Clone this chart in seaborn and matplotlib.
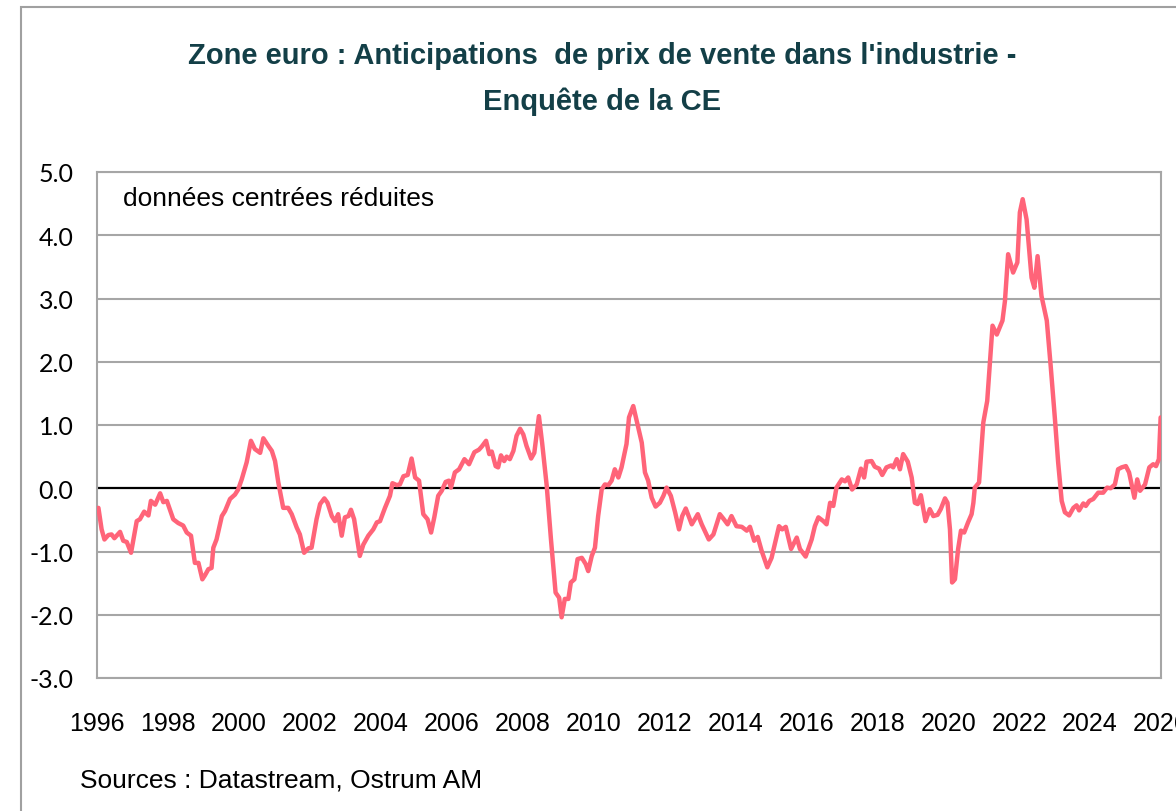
import matplotlib
matplotlib.use('Agg')
import matplotlib.pyplot as plt
import seaborn as sns
import pandas as pd
from matplotlib.patches import Rectangle

# decimal years and values
years = [
    1996.04, 1996.13, 1996.21, 1996.32, 1996.41, 1996.49, 1996.65, 1996.74, 1996.84, 1996.96,
    1997.12, 1997.21, 1997.33, 1997.45, 1997.52, 1997.64, 1997.78, 1997.87, 1997.97,
    1998.15, 1998.29, 1998.43, 1998.53, 1998.65, 1998.76, 1998.86, 1998.97,
    1999.04, 1999.14, 1999.23, 1999.28, 1999.37, 1999.52, 1999.61, 1999.75, 1999.89, 1999.98,
    2000.08, 2000.22, 2000.34, 2000.45, 2000.60, 2000.69, 2000.83, 2000.93,
    2001.02, 2001.11, 2001.25, 2001.39, 2001.49, 2001.63, 2001.72, 2001.84, 2001.96,
    2002.05, 2002.19, 2002.29, 2002.41, 2002.50, 2002.62, 2002.71, 2002.80, 2002.90, 2002.99,
    2003.09, 2003.16, 2003.25, 2003.41, 2003.51, 2003.65, 2003.79, 2003.89, 2003.98,
    2004.12, 2004.26, 2004.33, 2004.45, 2004.54, 2004.64, 2004.76, 2004.87, 2004.97,
    2005.08, 2005.20, 2005.32, 2005.42, 2005.51, 2005.62, 2005.72, 2005.83, 2005.92, 2005.98,
    2006.09, 2006.21, 2006.36, 2006.49, 2006.64, 2006.77, 2006.85, 2006.97,
    2007.06, 2007.13, 2007.24, 2007.31, 2007.39, 2007.48, 2007.55, 2007.64, 2007.74, 2007.83, 2007.93,
    2008.02, 2008.11, 2008.24, 2008.33, 2008.46, 2008.55, 2008.68, 2008.80, 2008.93,
    2009.03, 2009.10, 2009.19, 2009.29, 2009.36, 2009.46, 2009.55, 2009.67, 2009.78, 2009.85, 2009.95,
    2010.04, 2010.13, 2010.23, 2010.32, 2010.42, 2010.51, 2010.60, 2010.70, 2010.79, 2010.93,
    2011.00, 2011.12, 2011.24, 2011.36, 2011.45, 2011.54, 2011.64, 2011.75, 2011.87, 2011.97,
    2012.06, 2012.18, 2012.30, 2012.41, 2012.50, 2012.60, 2012.77, 2012.94,
    2013.05, 2013.25, 2013.38, 2013.56, 2013.66, 2013.78, 2013.89,
    2014.03, 2014.18, 2014.32, 2014.41, 2014.53, 2014.63, 2014.74, 2014.90,
    2015.02, 2015.12, 2015.23, 2015.32, 2015.42, 2015.57, 2015.73, 2015.82, 2015.98,
    2016.15, 2016.24, 2016.34, 2016.48, 2016.57, 2016.67, 2016.76, 2016.85,
    2017.00, 2017.09, 2017.18, 2017.29, 2017.42, 2017.54, 2017.63, 2017.70, 2017.84, 2017.93,
    2018.05, 2018.14, 2018.26, 2018.39, 2018.45, 2018.55, 2018.64, 2018.73, 2018.86, 2018.97,
    2019.06, 2019.14, 2019.23, 2019.36, 2019.48, 2019.58, 2019.70, 2019.79, 2019.91, 2019.98,
    2020.05, 2020.11, 2020.19, 2020.28, 2020.36, 2020.45, 2020.56, 2020.66, 2020.71, 2020.75, 2020.87, 2020.99,
    2021.10, 2021.25, 2021.37, 2021.53, 2021.60, 2021.69, 2021.83, 2021.95,
    2022.02, 2022.10, 2022.21, 2022.35, 2022.43, 2022.52, 2022.63, 2022.78, 2022.89,
    2023.01, 2023.10, 2023.20, 2023.29, 2023.41, 2023.53, 2023.62, 2023.69, 2023.81, 2023.88, 2023.98,
    2024.09, 2024.23, 2024.37, 2024.48, 2024.58, 2024.70, 2024.79, 2024.89,
    2025.01, 2025.10, 2025.25, 2025.33, 2025.41, 2025.55, 2025.67, 2025.78, 2025.86, 2025.94, 2025.99,
]
values = [
    -0.31, -0.65, -0.81, -0.74, -0.73, -0.79, -0.69, -0.83, -0.85, -1.02,
    -0.52, -0.49, -0.37, -0.43, -0.20, -0.26, -0.08, -0.22, -0.20,
    -0.49, -0.55, -0.59, -0.70, -0.75, -1.18, -1.18, -1.44,
    -1.38, -1.28, -1.26, -0.94, -0.81, -0.44, -0.36, -0.17, -0.10, -0.02,
    0.14, 0.41, 0.75, 0.62, 0.56, 0.79, 0.67, 0.59,
    0.43, 0.10, -0.31, -0.31, -0.41, -0.62, -0.73, -1.02, -0.95,
    -0.94, -0.49, -0.25, -0.16, -0.23, -0.44, -0.52, -0.41, -0.75, -0.46,
    -0.44, -0.34, -0.49, -1.07, -0.89, -0.75, -0.65, -0.54, -0.52,
    -0.31, -0.12, 0.08, 0.05, 0.06, 0.19, 0.21, 0.47, 0.17,
    0.12, -0.41, -0.49, -0.70, -0.46, -0.12, -0.04, 0.10, 0.12, 0.01,
    0.25, 0.30, 0.46, 0.38, 0.57, 0.61, 0.66, 0.75,
    0.54, 0.58, 0.35, 0.33, 0.52, 0.43, 0.50, 0.46, 0.59, 0.83, 0.94,
    0.85, 0.67, 0.47, 0.56, 1.14, 0.72, 0.04, -0.81, -1.65,
    -1.73, -2.04, -1.75, -1.75, -1.49, -1.44, -1.12, -1.10, -1.20, -1.31, -1.07,
    -0.94, -0.44, -0.02, 0.06, 0.05, 0.12, 0.30, 0.17, 0.33, 0.70,
    1.12, 1.30, 1.01, 0.72, 0.25, 0.12, -0.15, -0.29, -0.23, -0.12,
    0.01, -0.12, -0.38, -0.65, -0.44, -0.32, -0.57, -0.41,
    -0.57, -0.81, -0.73, -0.41, -0.48, -0.57, -0.44,
    -0.60, -0.61, -0.67, -0.61, -0.83, -0.77, -0.99, -1.25,
    -1.10, -0.86, -0.60, -0.65, -0.61, -0.96, -0.78, -0.96, -1.08,
    -0.81, -0.60, -0.46, -0.52, -0.57, -0.23, -0.28, 0.01,
    0.14, 0.11, 0.17, -0.02, 0.06, 0.31, 0.17, 0.42, 0.43, 0.34,
    0.31, 0.21, 0.33, 0.36, 0.33, 0.46, 0.30, 0.54, 0.42, 0.17,
    -0.23, -0.25, -0.11, -0.52, -0.33, -0.44, -0.42, -0.33, -0.16, -0.23,
    -0.65, -1.49, -1.44, -0.96, -0.67, -0.70, -0.54, -0.41, -0.23, 0.01, 0.09, 1.04,
    1.38, 2.57, 2.43, 2.65, 2.96, 3.70, 3.41, 3.57,
    4.36, 4.57, 4.25, 3.33, 3.17, 3.67, 3.04, 2.65, 1.93,
    1.09, 0.41, -0.20, -0.38, -0.43, -0.31, -0.27, -0.35, -0.24, -0.28, -0.20,
    -0.17, -0.07, -0.07, 0.01, 0.00, 0.06, 0.30, 0.33,
    0.35, 0.25, -0.15, 0.14, -0.04, 0.06, 0.33, 0.38, 0.35, 0.46, 1.12,
]

x_ticks = list(range(1996, 2027, 2))
y_ticks = [5, 4, 3, 2, 1, 0, -1, -2, -3]
y_labels = ['5.0', '4.0', '3.0', '2.0', '1.0', '0.0', '-1.0', '-2.0', '-3.0']

title = "Zone euro : Anticipations  de prix de vente dans l'industrie -\nEnquête de la CE"
note = 'données centrées réduites'
source = 'Sources : Datastream, Ostrum AM'

df = pd.DataFrame({'annee': years, 'valeur': values})

sns.set_style('white')
plt.rcParams['font.family'] = ['Liberation Sans', 'DejaVu Sans']
plt.rcParams['text.color'] = 'black'
plt.rcParams['xtick.color'] = 'black'
plt.rcParams['ytick.color'] = 'black'

fig = plt.figure(figsize=(11.76, 8.12), dpi=100)
ax = fig.add_axes([97 / 1176, 1 - 679 / 812, (1161 - 97) / 1176, (679 - 173) / 812])

grid_col = '#a6a6a6'
for v in y_ticks:
    if v != 0:
        ax.axhline(v, color=grid_col, lw=1.5, zorder=1)
ax.axhline(0, color='black', lw=1.6, zorder=2)

sns.lineplot(data=df, x='annee', y='valeur', color='#ff6479', lw=3.2, ax=ax, zorder=3)

ax.set_xlim(1996, 2026)
ax.set_ylim(-3, 5)
ax.set_xticks(x_ticks)
ax.set_xticklabels([str(t) for t in x_ticks], fontsize=18)
ax.set_yticks(y_ticks)
ax.set_yticklabels(y_labels, fontsize=18, family=['Lato', 'DejaVu Sans'])
ax.tick_params(axis='x', length=0, pad=24)
ax.tick_params(axis='y', length=0, pad=17)
ax.set_xlabel('')
ax.set_ylabel('')
for s in ax.spines.values():
    s.set_color(grid_col)
    s.set_linewidth(1.5)

ax.text(0.024, 0.948, note, transform=ax.transAxes, fontsize=19, va='center', ha='left')

fig.text(602 / 1176, 1 - 79 / 812, title, ha='center', va='center', fontsize=21,
         fontweight='bold', color='#133f47', linespacing=1.75)
fig.text(80 / 1176, 1 - 781 / 812, source, ha='left', va='center', fontsize=19)

# outer frame of the chart
fig.patches.append(Rectangle((21 / 1176, -0.05), 1.2, 1 - 8 / 812 + 0.05, transform=fig.transFigure,
                             fill=False, edgecolor='#a0a0a0', lw=1.5))

fig.savefig('out.png', dpi=100)
